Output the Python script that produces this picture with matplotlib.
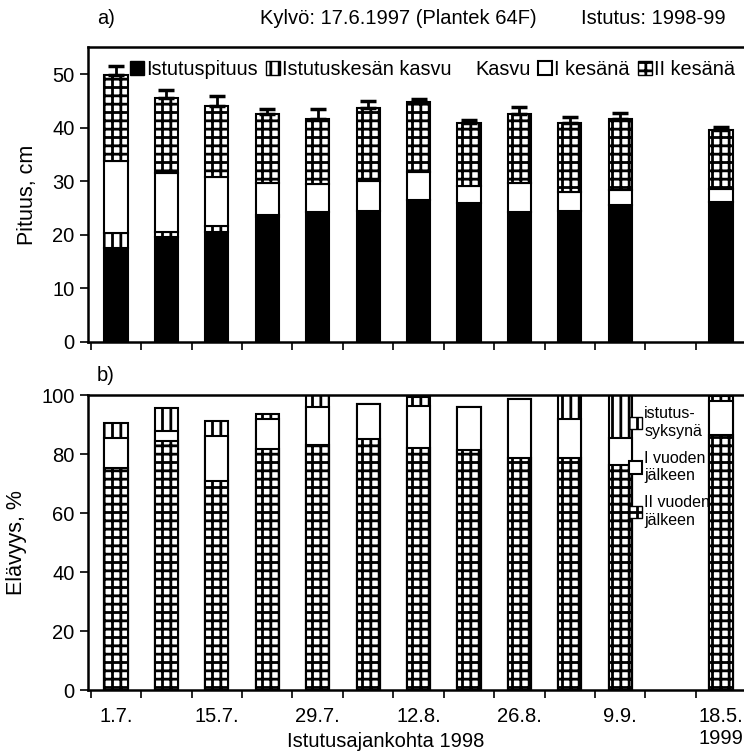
import numpy as np
import matplotlib
matplotlib.use("Agg")
import matplotlib.pyplot as plt
from matplotlib.patches import Patch

plt.rcParams["font.family"] = ["Liberation Sans Narrow", "Liberation Sans", "DejaVu Sans"]
plt.rcParams["hatch.linewidth"] = 2.0

# Categories (13 slots, slot 11 is empty)
positions = [0, 1, 2, 3, 4, 5, 6, 7, 8, 9, 10, 12]
tick_labels = ["1.7.", "", "15.7.", "", "29.7.", "", "12.8.", "", "26.8.", "", "9.9.", "", "18.5.\n1999"]

# a) heights, cm
istutuspituus = [17.5, 19.6, 20.5, 23.3, 24.3, 24.5, 26.5, 25.9, 24.2, 24.4, 25.5, 26.1]
istutuskesan_kasvu = [2.9, 0.9, 1.1, 0.3, 0, 0, 0, 0, 0, 0, 0, 0]
i_kesana = [13.4, 11.0, 9.1, 6.0, 5.1, 5.6, 5.2, 3.2, 5.4, 3.5, 2.9, 2.5]
ii_kesana = [16.0, 14.0, 13.3, 13.0, 12.3, 13.5, 13.0, 11.8, 12.9, 13.0, 13.2, 10.9]
virhe = [1.8, 1.5, 1.9, 0.8, 1.7, 1.3, 0.6, 0.5, 1.4, 1.0, 1.2, 0.6]

# b) survival, %
istutussyksyna = [90.5, 95.5, 91.3, 93.5, 100, 96.9, 99.3, 96.0, 98.6, 100, 100, 99.8]
i_vuoden = [85.6, 87.9, 86.2, 91.8, 95.8, 96.9, 96.4, 96.0, 98.6, 91.8, 85.6, 98.0]
ii_vuoden = [75.4, 84.5, 70.9, 81.6, 83.0, 85.0, 82.2, 81.4, 78.5, 78.5, 76.2, 86.4]

W = 0.46
fs = 14.5

fig = plt.figure(figsize=(7.44, 7.51), dpi=100)
ax1 = fig.add_axes([0.118, 0.545, 0.885, 0.392])
ax2 = fig.add_axes([0.118, 0.081, 0.885, 0.393])

# --- a) ---
b0 = np.array(istutuspituus)
b1 = b0 + np.array(istutuskesan_kasvu)
b2 = b1 + np.array(i_kesana)
b3 = b2 + np.array(ii_kesana)
kw = dict(width=W, edgecolor="black", linewidth=1.5)
ax1.bar(positions, istutuspituus, color="black", **kw)
ax1.bar(positions, istutuskesan_kasvu, bottom=b0, color="white", hatch="||", **kw)
ax1.bar(positions, i_kesana, bottom=b1, color="white", **kw)
ax1.bar(positions, ii_kesana, bottom=b2, color="white", hatch="++", **kw)
ax1.errorbar(positions, b3, yerr=[np.zeros(len(virhe)), virhe], fmt="none",
             ecolor="black", elinewidth=2, capsize=6, capthick=2.5)
ax1.set_ylim(0, 55)
ax1.set_yticks([0, 10, 20, 30, 40, 50])
ax1.set_ylabel("Pituus, cm", fontsize=fs + 1, labelpad=10)

h1 = [Patch(facecolor="black", edgecolor="black"),
      Patch(facecolor="white", edgecolor="black", hatch="||"),
      Patch(facecolor="none", edgecolor="none"),
      Patch(facecolor="white", edgecolor="black", linewidth=1.5),
      Patch(facecolor="white", edgecolor="black", hatch="++")]
l1 = ["Istutuspituus", "Istutuskesän kasvu", "Kasvu", "I kesänä", "II kesänä"]
ax1.legend(h1, l1, ncol=5, loc="upper left", bbox_to_anchor=(0.045, 1.0), frameon=False,
           fontsize=fs - 0.2, handlelength=0.7, handleheight=0.7, handletextpad=0.1,
           columnspacing=0.4, borderaxespad=0.25)

# --- b) ---
ax2.bar(positions, istutussyksyna, color="white", hatch="||", **kw)
ax2.bar(positions, i_vuoden, color="white", **kw)
ax2.bar(positions, ii_vuoden, color="white", hatch="++", **kw)
ax2.set_ylim(0, 100)
ax2.set_yticks([0, 20, 40, 60, 80, 100])
ax2.set_ylabel("Elävyys, %", fontsize=fs + 1, labelpad=10)

h2 = [Patch(facecolor="white", edgecolor="black", hatch="||"),
      Patch(facecolor="white", edgecolor="black", linewidth=1.5),
      Patch(facecolor="white", edgecolor="black", hatch="++")]
l2 = ["istutus-\nsyksynä", "I vuoden\njälkeen", "II vuoden\njälkeen"]
ax2.legend(h2, l2, loc="upper left", bbox_to_anchor=(0.8, 1.01), frameon=False,
           fontsize=11.5, handlelength=0.8, handleheight=0.8, handletextpad=0.15,
           labelspacing=0.75)

for ax in (ax1, ax2):
    ax.set_xlim(-0.56, 12.46)
    ax.set_xticks(range(13))
    ax.set_xticks(np.arange(-0.5, 13, 1), minor=True)
    ax.tick_params(axis="x", which="major", length=0, pad=12)
    ax.tick_params(axis="x", which="minor", length=6, width=1.2, direction="out")
    ax.tick_params(axis="y", length=6, width=1.2, direction="out", labelsize=fs)
    for s in ax.spines.values():
        s.set_linewidth(1.8)

ax1.set_xticklabels([])
ax2.set_xticklabels(tick_labels, fontsize=fs, linespacing=1.2)

fig.text(0.13, 0.975, "a)", fontsize=fs, ha="left", va="center")
fig.text(0.535, 0.975, "Kylvö: 17.6.1997 (Plantek 64F)", fontsize=fs, ha="center", va="center")
fig.text(0.878, 0.975, "Istutus: 1998-99", fontsize=fs, ha="center", va="center")
fig.text(0.13, 0.5, "b)", fontsize=fs, ha="left", va="center")
fig.text(0.518, 0.012, "Istutusajankohta 1998", fontsize=fs, ha="center", va="center")

fig.savefig("out.png", dpi=100)
